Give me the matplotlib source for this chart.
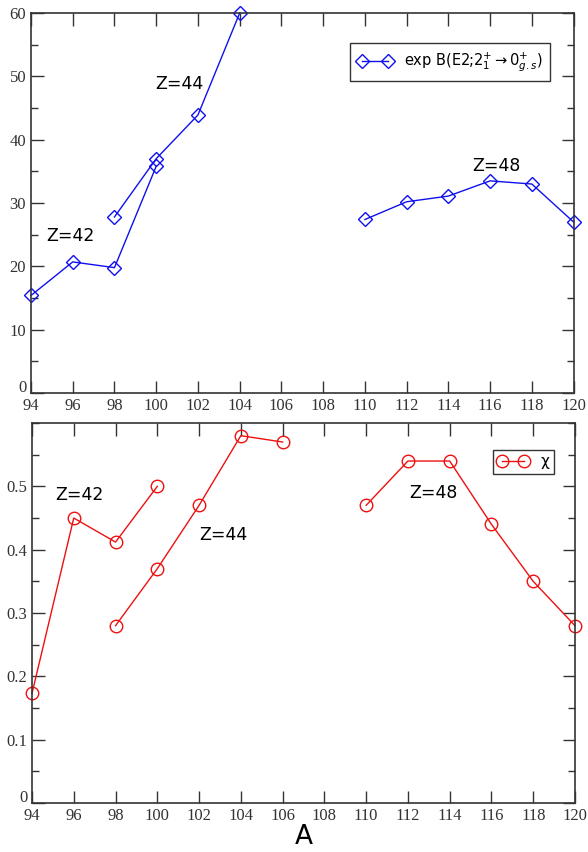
import matplotlib
matplotlib.use("Agg")
import matplotlib.pyplot as plt
import matplotlib.transforms as mtransforms
from matplotlib.ticker import MultipleLocator, FixedLocator

plt.rcParams['mathtext.fontset'] = 'dejavusans'

# B(E2) data (top panel)
a_be2_z42 = [94, 96, 98, 100]
be2_z42 = [15.4, 20.7, 19.8, 35.8]
a_be2_z44 = [98, 100, 102, 104]
be2_z44 = [27.8, 37.0, 43.9, 60.0]
a_be2_z48 = [110, 112, 114, 116, 118, 120]
be2_z48 = [27.4, 30.2, 31.1, 33.5, 33.0, 27.0]

# chi data (bottom panel)
a_chi_z42 = [94, 96, 98, 100]
chi_z42 = [0.173, 0.45, 0.412, 0.50]
a_chi_z44 = [98, 100, 102, 104, 106]
chi_z44 = [0.28, 0.37, 0.47, 0.58, 0.57]
a_chi_z48 = [110, 112, 114, 116, 118, 120]
chi_z48 = [0.47, 0.54, 0.54, 0.44, 0.35, 0.28]

be2_ticks = [0, 10, 20, 30, 40, 50, 60]
chi_ticks = [0, 0.1, 0.2, 0.3, 0.4, 0.5]
chi_ticklabels = ['0', '0.1', '0.2', '0.3', '0.4', '0.5']

fig = plt.figure(figsize=(5.88, 8.52), dpi=100)
ax1 = fig.add_axes([0.0527, 0.5387, 0.9228, 0.4460])
ax2 = fig.add_axes([0.0544, 0.0575, 0.9235, 0.4460])

def style_axis(ax):
    ax.set_xlim(94, 120)
    ax.xaxis.set_major_locator(MultipleLocator(2))
    ax.tick_params(which='both', direction='in', top=True, right=True,
                   width=1, colors='#333333')
    ax.tick_params(which='major', length=9)
    ax.tick_params(which='minor', length=5)
    for lab in ax.get_xticklabels() + ax.get_yticklabels():
        lab.set_fontfamily('Liberation Serif')
        lab.set_fontsize(12)
    for s in ax.spines.values():
        s.set_linewidth(1.2)
        s.set_color('#333333')
    # the zero label on y sits a bit higher, as in the original
    shift = mtransforms.ScaledTranslation(0, 5 / 72, fig.dpi_scale_trans)
    ylab0 = ax.get_yticklabels()[0]
    ylab0.set_transform(ylab0.get_transform() + shift)

# top panel
kw1 = dict(color='#1010ee', marker='D', markersize=7.5, mfc='none', mew=1.0,
           lw=1.0, clip_on=False)
ax1.plot(a_be2_z42, be2_z42, **kw1, label=r'exp B(E2;2$^{+}_{1}$$\rightarrow$0$^{+}_{g.s}$)')
ax1.plot(a_be2_z44, be2_z44, **kw1)
ax1.plot(a_be2_z48, be2_z48, **kw1)
ax1.set_ylim(0, 60)
ax1.yaxis.set_major_locator(FixedLocator(be2_ticks))
ax1.yaxis.set_minor_locator(MultipleLocator(5))
ax1.set_yticklabels([str(t) for t in be2_ticks])
style_axis(ax1)
ax1.text(95.9, 24.8, 'Z=42', fontsize=12.5, ha='center', va='center')
ax1.text(101.1, 48.8, 'Z=44', fontsize=12.5, ha='center', va='center')
ax1.text(116.3, 35.8, 'Z=48', fontsize=12.5, ha='center', va='center')
leg1 = ax1.legend(loc='upper right', bbox_to_anchor=(0.97, 0.94), fontsize=10.5,
                  fancybox=False, edgecolor='#333333', framealpha=1,
                  handlelength=2.4, borderpad=0.5, numpoints=2)
leg1.get_frame().set_linewidth(1.0)

# bottom panel
kw2 = dict(color='#ee1010', marker='o', markersize=9, mfc='none', mew=1.0,
           lw=1.0, clip_on=False)
ax2.plot(a_chi_z42, chi_z42, **kw2, label='χ')
ax2.plot(a_chi_z44, chi_z44, **kw2)
ax2.plot(a_chi_z48, chi_z48, **kw2)
ax2.set_ylim(0, 0.6)
ax2.yaxis.set_major_locator(FixedLocator(chi_ticks))
ax2.yaxis.set_minor_locator(MultipleLocator(0.05))
ax2.set_yticklabels(chi_ticklabels)
style_axis(ax2)
ax2.text(96.25, 0.486, 'Z=42', fontsize=12.5, ha='center', va='center')
ax2.text(103.15, 0.423, 'Z=44', fontsize=12.5, ha='center', va='center')
ax2.text(113.2, 0.49, 'Z=48', fontsize=12.5, ha='center', va='center')
leg2 = ax2.legend(loc='upper right', bbox_to_anchor=(0.975, 0.95), fontsize=11,
                  fancybox=False, edgecolor='#333333', framealpha=1,
                  handlelength=2.0, borderpad=0.3, numpoints=2)
leg2.get_frame().set_linewidth(1.0)
ax2.set_xlabel('A', fontsize=19, labelpad=0)

fig.savefig('out.png', dpi=100)
